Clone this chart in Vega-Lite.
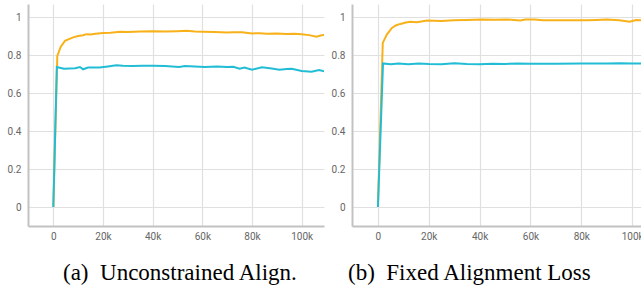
{
  "$schema": "https://vega.github.io/schema/vega-lite/v6.json",
  "padding": {"left": 0, "top": 4, "right": 0, "bottom": 0},
  "background": "white",
  "spacing": 0,
  "config": {
    "view": {"stroke": null},
    "axis": {
      "labelFont": "Roboto",
      "labelFontSize": 10,
      "labelColor": "#666666",
      "grid": true,
      "gridColor": "#e0e0e0",
      "gridWidth": 1.2,
      "domainColor": "#c2c2c2",
      "domainWidth": 2,
      "ticks": false,
      "title": null
    }
  },
  "datasets": {
    "left": [
      {"series": "acc", "step": 0, "value": 0},
      {"series": "acc", "step": 1600, "value": 0.796},
      {"series": "acc", "step": 3000, "value": 0.845},
      {"series": "acc", "step": 4700, "value": 0.876},
      {"series": "acc", "step": 6500, "value": 0.886},
      {"series": "acc", "step": 8000, "value": 0.894},
      {"series": "acc", "step": 10000, "value": 0.901},
      {"series": "acc", "step": 12000, "value": 0.905},
      {"series": "acc", "step": 13400, "value": 0.911},
      {"series": "acc", "step": 15000, "value": 0.909},
      {"series": "acc", "step": 17000, "value": 0.913},
      {"series": "acc", "step": 20000, "value": 0.917},
      {"series": "acc", "step": 23000, "value": 0.918},
      {"series": "acc", "step": 26900, "value": 0.924},
      {"series": "acc", "step": 30000, "value": 0.922},
      {"series": "acc", "step": 35000, "value": 0.925},
      {"series": "acc", "step": 40000, "value": 0.927},
      {"series": "acc", "step": 45000, "value": 0.925},
      {"series": "acc", "step": 50000, "value": 0.927},
      {"series": "acc", "step": 53700, "value": 0.929},
      {"series": "acc", "step": 57000, "value": 0.925},
      {"series": "acc", "step": 60000, "value": 0.924},
      {"series": "acc", "step": 65000, "value": 0.922},
      {"series": "acc", "step": 70000, "value": 0.92},
      {"series": "acc", "step": 72500, "value": 0.921},
      {"series": "acc", "step": 76000, "value": 0.921},
      {"series": "acc", "step": 80000, "value": 0.915},
      {"series": "acc", "step": 83000, "value": 0.916},
      {"series": "acc", "step": 86000, "value": 0.913},
      {"series": "acc", "step": 90000, "value": 0.915},
      {"series": "acc", "step": 94000, "value": 0.912},
      {"series": "acc", "step": 97000, "value": 0.913},
      {"series": "acc", "step": 100000, "value": 0.911},
      {"series": "acc", "step": 103000, "value": 0.906},
      {"series": "acc", "step": 106000, "value": 0.897},
      {"series": "acc", "step": 108000, "value": 0.905},
      {"series": "acc", "step": 110000, "value": 0.908},
      {"series": "other", "step": 0, "value": 0},
      {"series": "other", "step": 1400, "value": 0.738},
      {"series": "other", "step": 3000, "value": 0.733},
      {"series": "other", "step": 4300, "value": 0.729},
      {"series": "other", "step": 6500, "value": 0.73},
      {"series": "other", "step": 8800, "value": 0.731},
      {"series": "other", "step": 10700, "value": 0.738},
      {"series": "other", "step": 12000, "value": 0.726},
      {"series": "other", "step": 14000, "value": 0.735},
      {"series": "other", "step": 18600, "value": 0.735},
      {"series": "other", "step": 22000, "value": 0.741},
      {"series": "other", "step": 25300, "value": 0.747},
      {"series": "other", "step": 28000, "value": 0.744},
      {"series": "other", "step": 32000, "value": 0.743},
      {"series": "other", "step": 36000, "value": 0.744},
      {"series": "other", "step": 40000, "value": 0.745},
      {"series": "other", "step": 45000, "value": 0.743},
      {"series": "other", "step": 50700, "value": 0.738},
      {"series": "other", "step": 53000, "value": 0.743},
      {"series": "other", "step": 57000, "value": 0.741},
      {"series": "other", "step": 61000, "value": 0.738},
      {"series": "other", "step": 66000, "value": 0.74},
      {"series": "other", "step": 70000, "value": 0.738},
      {"series": "other", "step": 72500, "value": 0.739},
      {"series": "other", "step": 75000, "value": 0.729},
      {"series": "other", "step": 77000, "value": 0.735},
      {"series": "other", "step": 80000, "value": 0.724},
      {"series": "other", "step": 84000, "value": 0.736},
      {"series": "other", "step": 88000, "value": 0.73},
      {"series": "other", "step": 91000, "value": 0.724},
      {"series": "other", "step": 94000, "value": 0.727},
      {"series": "other", "step": 96000, "value": 0.729},
      {"series": "other", "step": 100000, "value": 0.717},
      {"series": "other", "step": 104000, "value": 0.713},
      {"series": "other", "step": 107000, "value": 0.722},
      {"series": "other", "step": 110000, "value": 0.713}
    ],
    "right": [
      {"series": "acc", "step": 0, "value": 0},
      {"series": "acc", "step": 1900, "value": 0.865},
      {"series": "acc", "step": 3500, "value": 0.909},
      {"series": "acc", "step": 5500, "value": 0.944},
      {"series": "acc", "step": 7000, "value": 0.957},
      {"series": "acc", "step": 8800, "value": 0.965},
      {"series": "acc", "step": 11000, "value": 0.972},
      {"series": "acc", "step": 12700, "value": 0.976},
      {"series": "acc", "step": 15400, "value": 0.974},
      {"series": "acc", "step": 19300, "value": 0.983},
      {"series": "acc", "step": 25000, "value": 0.981},
      {"series": "acc", "step": 29800, "value": 0.984},
      {"series": "acc", "step": 35000, "value": 0.986},
      {"series": "acc", "step": 40500, "value": 0.988},
      {"series": "acc", "step": 46000, "value": 0.987},
      {"series": "acc", "step": 50900, "value": 0.988},
      {"series": "acc", "step": 56000, "value": 0.983},
      {"series": "acc", "step": 58000, "value": 0.988},
      {"series": "acc", "step": 61600, "value": 0.988},
      {"series": "acc", "step": 65000, "value": 0.985},
      {"series": "acc", "step": 69000, "value": 0.985},
      {"series": "acc", "step": 75000, "value": 0.985},
      {"series": "acc", "step": 82000, "value": 0.985},
      {"series": "acc", "step": 86000, "value": 0.986},
      {"series": "acc", "step": 90000, "value": 0.988},
      {"series": "acc", "step": 95000, "value": 0.984},
      {"series": "acc", "step": 99000, "value": 0.977},
      {"series": "acc", "step": 101600, "value": 0.986},
      {"series": "acc", "step": 105000, "value": 0.982},
      {"series": "acc", "step": 110000, "value": 0.983},
      {"series": "other", "step": 0, "value": 0},
      {"series": "other", "step": 2000, "value": 0.757},
      {"series": "other", "step": 5000, "value": 0.752},
      {"series": "other", "step": 8000, "value": 0.757},
      {"series": "other", "step": 12000, "value": 0.753},
      {"series": "other", "step": 16000, "value": 0.757},
      {"series": "other", "step": 20000, "value": 0.754},
      {"series": "other", "step": 25000, "value": 0.753},
      {"series": "other", "step": 30000, "value": 0.758},
      {"series": "other", "step": 35000, "value": 0.754},
      {"series": "other", "step": 40000, "value": 0.752},
      {"series": "other", "step": 45000, "value": 0.755},
      {"series": "other", "step": 50000, "value": 0.754},
      {"series": "other", "step": 55000, "value": 0.756},
      {"series": "other", "step": 60000, "value": 0.755},
      {"series": "other", "step": 70000, "value": 0.755},
      {"series": "other", "step": 80000, "value": 0.756},
      {"series": "other", "step": 90000, "value": 0.757},
      {"series": "other", "step": 95000, "value": 0.758},
      {"series": "other", "step": 100000, "value": 0.757},
      {"series": "other", "step": 105000, "value": 0.757},
      {"series": "other", "step": 110000, "value": 0.757}
    ]
  },
  "hconcat": [
    {
      "width": 296,
      "height": 222,
      "title": {"text": "(a)\u2002Unconstrained Align.", "dx": 35, "offset": 20, "orient": "bottom", "anchor": "start", "frame": "group", "font": "Liberation Serif", "fontSize": 23, "fontWeight": "normal", "color": "#000000"},
      "encoding": {
        "x": {"type": "quantitative", "scale": {"domain": [-10200, 109000], "nice": false, "zero": false},
              "axis": {"grid": true, "values": [0, 20000, 40000, 60000, 80000, 100000], "labelExpr": "datum.value == 0 ? '0' : (datum.value / 1000) + 'k'", "labelPadding": 5, "minExtent": 16, "maxExtent": 16}},
        "y": {"type": "quantitative", "scale": {"domain": [-0.1, 1.07], "nice": false, "zero": false},
              "axis": {"grid": true, "values": [0, 0.2, 0.4, 0.6, 0.8, 1], "format": "~g", "labelPadding": 7, "minExtent": 28, "maxExtent": 28}}
      },
      "layer": [
        {"mark": {"type": "rule", "color": "#c2c2c2", "strokeWidth": 2}, "encoding": {"y": {"datum": 0, "type": "quantitative"}}},
        {"mark": {"type": "rule", "color": "#c2c2c2", "strokeWidth": 2}, "encoding": {"x": {"datum": 0, "type": "quantitative"}}},
        {
          "data": {"name": "left"},
          "mark": {"type": "line", "strokeWidth": 2, "clip": true},
          "encoding": {
            "x": {"field": "step", "type": "quantitative"},
            "y": {"field": "value", "type": "quantitative"},
            "color": {"field": "series", "type": "nominal", "scale": {"domain": ["acc", "other"], "range": ["#f8b119", "#22bdd5"]}, "legend": null}
          }
        }
      ]
    },
    {
      "width": 303,
      "height": 222,
      "title": {"text": "(b)\u2002Fixed Alignment Loss", "dx": -4, "offset": 20, "orient": "bottom", "anchor": "start", "frame": "group", "font": "Liberation Serif", "fontSize": 23, "fontWeight": "normal", "color": "#000000"},
      "encoding": {
        "x": {"type": "quantitative", "scale": {"domain": [-10200, 109000], "nice": false, "zero": false},
              "axis": {"grid": true, "values": [0, 20000, 40000, 60000, 80000, 100000], "labelExpr": "datum.value == 0 ? '0' : (datum.value / 1000) + 'k'", "labelPadding": 5, "minExtent": 16, "maxExtent": 16}},
        "y": {"type": "quantitative", "scale": {"domain": [-0.1, 1.07], "nice": false, "zero": false},
              "axis": {"grid": true, "values": [0, 0.2, 0.4, 0.6, 0.8, 1], "format": "~g", "labelPadding": 7, "minExtent": 28, "maxExtent": 28}}
      },
      "layer": [
        {"mark": {"type": "rule", "color": "#c2c2c2", "strokeWidth": 2}, "encoding": {"y": {"datum": 0, "type": "quantitative"}}},
        {"mark": {"type": "rule", "color": "#c2c2c2", "strokeWidth": 2}, "encoding": {"x": {"datum": 0, "type": "quantitative"}}},
        {
          "data": {"name": "right"},
          "mark": {"type": "line", "strokeWidth": 2, "clip": true},
          "encoding": {
            "x": {"field": "step", "type": "quantitative"},
            "y": {"field": "value", "type": "quantitative"},
            "color": {"field": "series", "type": "nominal", "scale": {"domain": ["other", "acc"], "range": ["#22bdd5", "#f8b119"]}, "legend": null}
          }
        }
      ]
    }
  ],
  "resolve": {"scale": {"color": "independent"}}
}
